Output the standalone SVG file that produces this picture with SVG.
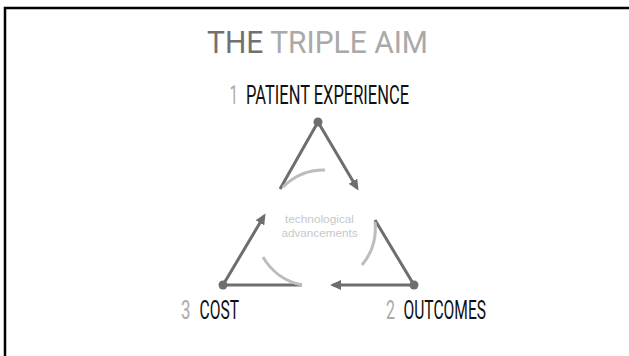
<svg xmlns="http://www.w3.org/2000/svg" width="629" height="356" viewBox="0 0 629 356">
<style>
.frame{stroke:#000;stroke-width:2.5;fill:none}
.edge{stroke:#6e6e6e;stroke-width:3;fill:none}
.arc{stroke:#bdbdbd;stroke-width:3;fill:none}
.dot{fill:#6e6e6e}
.title{font-family:Roboto,"Liberation Sans",sans-serif;font-size:32px}
.lbl{font-family:Roboto,"Liberation Sans",sans-serif;font-size:25px;fill:#111}
.num{font-family:Roboto,"Liberation Sans",sans-serif;font-size:25px;fill:#ababab}
.mid{font-family:"Liberation Sans",Arial,sans-serif;font-size:11.5px;fill:#c8c8c8;text-anchor:middle}
</style>
<defs>
<marker id="arr" markerUnits="userSpaceOnUse" markerWidth="11" markerHeight="10" viewBox="0 0 11 10" refX="8" refY="5" orient="auto">
<path d="M0,0 L11,5 L0,10 z" fill="#6e6e6e"/>
</marker>
</defs>
<rect width="629" height="356" fill="#fff"/>
<path class="frame" d="M5,356 V8 H629"/>
<g id="title">
<text class="title" x="207" y="53" textLength="221" lengthAdjust="spacingAndGlyphs"><tspan fill="#717171">THE</tspan><tspan fill="#a9a9a9"> TRIPLE AIM</tspan></text>
</g>
<g id="connectors">
<path class="edge" d="M280,189 L318,122 L357,188" marker-end="url(#arr)"/>
<path class="edge" d="M375,220 L414,285 L333,285" marker-end="url(#arr)"/>
<path class="edge" d="M302,285 L223,285 L264,216" marker-end="url(#arr)"/>
<path class="arc" d="M283,187 A58,58 0 0 1 325,170"/>
<path class="arc" d="M375,222 A58,58 0 0 1 362,265"/>
<path class="arc" d="M302,285 A58,58 0 0 1 263,257"/>
</g>
<g id="node-patient-experience">
<circle class="dot" cx="318" cy="122" r="4.5"/>
<text class="num" x="229.5" y="104.3" textLength="8.5" lengthAdjust="spacingAndGlyphs">1</text>
<text class="lbl" x="246" y="104.3" textLength="163" lengthAdjust="spacingAndGlyphs">PATIENT EXPERIENCE</text>
</g>
<g id="node-outcomes">
<circle class="dot" cx="414" cy="285" r="4.5"/>
<text class="num" x="386" y="319.3" textLength="9" lengthAdjust="spacingAndGlyphs">2</text>
<text class="lbl" x="403.5" y="319.3" textLength="82.5" lengthAdjust="spacingAndGlyphs">OUTCOMES</text>
</g>
<g id="node-cost">
<circle class="dot" cx="223" cy="285" r="4.5"/>
<text class="num" x="181" y="319.3" textLength="9.5" lengthAdjust="spacingAndGlyphs">3</text>
<text class="lbl" x="199.5" y="319.3" textLength="39.5" lengthAdjust="spacingAndGlyphs">COST</text>
</g>
<g id="node-center">
<text class="mid" x="319.5" y="223" textLength="69" lengthAdjust="spacingAndGlyphs">technological</text>
<text class="mid" x="319.5" y="237" textLength="76" lengthAdjust="spacingAndGlyphs">advancements</text>
</g>
</svg>
